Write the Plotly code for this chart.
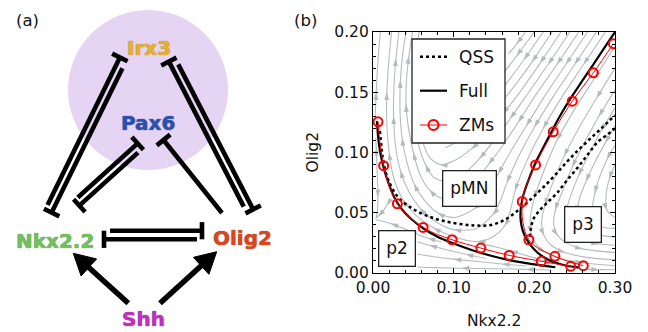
import math
import plotly.graph_objects as go

# ---------------- panel (b): phase plane, Olig2 against Nkx2.2 ----------------
x_tick_vals = [0.0, 0.1, 0.2, 0.3]
x_tick_text = ["0.00", "0.10", "0.20", "0.30"]
y_tick_vals = [0.0, 0.05, 0.1, 0.15, 0.2]
y_tick_text = ["0.00", "0.05", "0.10", "0.15", "0.20"]

# quasi-steady-state boundaries (dotted)
qss_upper_x = [0.0085, 0.0105, 0.0124, 0.0186, 0.031, 0.05, 0.075, 0.1, 0.125, 0.145,
               0.163, 0.178, 0.1946, 0.2125, 0.2277, 0.236, 0.25, 0.267, 0.283, 0.3]
qss_upper_y = [0.118, 0.105, 0.094, 0.078, 0.063, 0.053, 0.0455, 0.0415, 0.0395, 0.0397,
               0.044, 0.051, 0.0606, 0.072, 0.0827, 0.089, 0.099, 0.11, 0.12, 0.131]
qss_lower_x = [0.1946, 0.1958, 0.199, 0.207, 0.217, 0.2277, 0.24, 0.2545, 0.267, 0.279, 0.29, 0.3]
qss_lower_y = [0.030, 0.037, 0.045, 0.0523, 0.059, 0.0661, 0.0765, 0.0882, 0.099, 0.109, 0.1145, 0.12]

# full-model boundaries (solid)
full_left_x = [0.005, 0.0065, 0.009, 0.013, 0.019, 0.027, 0.035, 0.047, 0.0635, 0.08,
               0.1, 0.125, 0.1475, 0.175, 0.2, 0.226]
full_left_y = [0.126, 0.112, 0.1, 0.088, 0.075, 0.062, 0.0535, 0.045, 0.0365, 0.03,
               0.0245, 0.0185, 0.0141, 0.0098, 0.0072, 0.0048]
full_right_x = [0.3, 0.287, 0.273, 0.26, 0.247, 0.235, 0.2234, 0.2125, 0.2015, 0.193, 0.1865,
                0.1835, 0.1828, 0.1845, 0.188, 0.1935, 0.2, 0.207, 0.2175, 0.2276, 0.24, 0.255]
full_right_y = [0.2, 0.187, 0.173, 0.16, 0.147, 0.134, 0.12, 0.106, 0.0915, 0.0775, 0.065,
                0.055, 0.046, 0.038, 0.031, 0.0248, 0.0195, 0.0152, 0.011, 0.0083, 0.006, 0.0045]

# zero-mode boundaries (red, open circles)
zms_left_x = [0.0062, 0.0132, 0.0302, 0.0621, 0.0981, 0.1337, 0.1688, 0.2086, 0.245]
zms_left_y = [0.1255, 0.0891, 0.0574, 0.0378, 0.0276, 0.0207, 0.0146, 0.0097, 0.0055]
zms_right_x = [0.298, 0.2731, 0.247, 0.2234, 0.2015, 0.185, 0.1932, 0.2255, 0.2607]
zms_right_y = [0.1903, 0.1661, 0.1426, 0.1172, 0.0897, 0.0593, 0.0276, 0.0138, 0.0061]

# background flow lines, each listed in the direction of the flow
flow_lines = [
    ([0.0025, 0.004, 0.006, 0.009], [0.127, 0.15, 0.175, 0.2]),
    ([0.288, 0.261, 0.235, 0.211, 0.19, 0.176, 0.17, 0.163, 0.15, 0.13, 0.1, 0.075, 0.053, 0.037,
      0.026, 0.02, 0.017, 0.0172, 0.0195, 0.023],
     [0.2, 0.173, 0.147, 0.12, 0.092, 0.068, 0.051, 0.039, 0.0305, 0.026, 0.03, 0.0375, 0.048, 0.061,
      0.078, 0.1, 0.125, 0.15, 0.175, 0.2]),
    ([0.277, 0.25, 0.224, 0.2, 0.18, 0.166, 0.158, 0.148, 0.128, 0.1, 0.077, 0.058, 0.044, 0.034,
      0.028, 0.0255, 0.026, 0.0285, 0.032],
     [0.2, 0.173, 0.147, 0.121, 0.096, 0.075, 0.06, 0.048, 0.037, 0.036, 0.043, 0.054, 0.068, 0.085,
      0.105, 0.13, 0.155, 0.178, 0.2]),
    ([0.266, 0.239, 0.213, 0.19, 0.17, 0.155, 0.143, 0.125, 0.1, 0.08, 0.064, 0.051, 0.042, 0.036,
      0.0335, 0.034, 0.0365, 0.041],
     [0.2, 0.173, 0.147, 0.122, 0.1, 0.082, 0.067, 0.053, 0.046, 0.05, 0.06, 0.074, 0.092, 0.112,
      0.135, 0.16, 0.18, 0.2]),
    ([0.255, 0.228, 0.202, 0.18, 0.16, 0.143, 0.125, 0.105, 0.085, 0.07, 0.058, 0.05, 0.044, 0.041,
      0.0415, 0.0445, 0.049],
     [0.2, 0.173, 0.148, 0.125, 0.105, 0.09, 0.075, 0.063, 0.062, 0.069, 0.082, 0.1, 0.12, 0.14,
      0.16, 0.18, 0.2]),
    ([0.244, 0.217, 0.192, 0.17, 0.15, 0.132, 0.112, 0.092, 0.076, 0.065, 0.057, 0.052, 0.05, 0.052, 0.057],
     [0.2, 0.173, 0.149, 0.128, 0.11, 0.095, 0.082, 0.076, 0.079, 0.09, 0.105, 0.125, 0.15, 0.175, 0.2]),
    ([0.233, 0.207, 0.183, 0.161, 0.141, 0.122, 0.1, 0.083, 0.07, 0.062],
     [0.2, 0.174, 0.151, 0.132, 0.116, 0.103, 0.093, 0.09, 0.096, 0.108]),
    ([0.222, 0.197, 0.174, 0.152, 0.132, 0.11, 0.09], [0.2, 0.175, 0.154, 0.136, 0.122, 0.111, 0.104]),
    ([0.211, 0.187, 0.166, 0.148], [0.2, 0.177, 0.158, 0.143]),
    ([0.2, 0.178, 0.162], [0.2, 0.18, 0.166]),
    ([0.189, 0.178, 0.168], [0.2, 0.19, 0.182]),
    ([0.3, 0.275, 0.25, 0.228, 0.212, 0.2, 0.195, 0.196, 0.202, 0.214, 0.232, 0.26, 0.3],
     [0.188, 0.162, 0.136, 0.11, 0.085, 0.062, 0.045, 0.033, 0.024, 0.017, 0.012, 0.0085, 0.006]),
    ([0.3, 0.277, 0.255, 0.237, 0.223, 0.213, 0.209, 0.212, 0.221, 0.238, 0.265, 0.3],
     [0.17, 0.145, 0.12, 0.097, 0.075, 0.056, 0.042, 0.031, 0.023, 0.017, 0.013, 0.011]),
    ([0.3, 0.28, 0.262, 0.247, 0.235, 0.226, 0.224, 0.229, 0.24, 0.26, 0.3],
     [0.152, 0.13, 0.108, 0.088, 0.068, 0.052, 0.04, 0.031, 0.025, 0.02, 0.017]),
    ([0.3, 0.283, 0.268, 0.255, 0.245, 0.239, 0.239, 0.245, 0.258, 0.28, 0.3],
     [0.137, 0.118, 0.099, 0.081, 0.064, 0.05, 0.04, 0.032, 0.027, 0.024, 0.023]),
    ([0.3, 0.288, 0.275, 0.264, 0.256, 0.253, 0.256, 0.266, 0.283, 0.3],
     [0.122, 0.108, 0.092, 0.076, 0.062, 0.05, 0.04, 0.034, 0.031, 0.03]),
    ([0.3, 0.29, 0.281, 0.275, 0.272, 0.275, 0.285, 0.3], [0.106, 0.094, 0.08, 0.066, 0.053, 0.043, 0.038, 0.037]),
    ([0.3, 0.293, 0.289, 0.29, 0.3], [0.09, 0.078, 0.065, 0.052, 0.046]),
    ([0.262, 0.28, 0.3], [0.003, 0.0028, 0.0027]),
    ([0.22, 0.19, 0.15, 0.11, 0.075, 0.055], [0.0025, 0.003, 0.0035, 0.004, 0.0045, 0.005]),
    ([0.19, 0.16, 0.13, 0.1, 0.075, 0.055], [0.0058, 0.0075, 0.0095, 0.0115, 0.0135, 0.0155]),
    ([0.14, 0.115, 0.09, 0.07, 0.055], [0.012, 0.0155, 0.0195, 0.023, 0.026]),
    ([0.085, 0.068, 0.055, 0.045, 0.034, 0.022, 0.012, 0.004],
     [0.0255, 0.029, 0.032, 0.035, 0.038, 0.041, 0.043, 0.044]),
    ([0.0035, 0.0045, 0.0055, 0.006, 0.0055, 0.004], [0.112, 0.095, 0.078, 0.063, 0.052, 0.046]),
    ([0.022, 0.017, 0.011, 0.006, 0.003], [0.061, 0.056, 0.05, 0.047, 0.045]),
    ([0.225, 0.21, 0.19, 0.17, 0.15, 0.13], [0.0075, 0.0105, 0.0145, 0.0185, 0.022, 0.025]),
]

region_names = ["pMN", "p2", "p3"]
region_x = [0.1199, 0.030, 0.2607]
region_y = [0.0705, 0.0207, 0.0405]

legend_names = ["QSS", "Full", "ZMs"]

# ---------------- panel (a): regulatory network ----------------
node_names = ["Irx3", "Pax6", "Nkx2.2", "Olig2", "Shh"]
node_colors = ["#e8b12c", "#2b50b4", "#72c15c", "#e0441c", "#c42fc2"]
node_shadow = ["#8a6510", "#15286a", "#2f6a25", "#7a1c08", "#6a1068"]
edges = [  # (source, target, kind)
    ("Nkx2.2", "Irx3", "repress"), ("Irx3", "Nkx2.2", "repress"),
    ("Olig2", "Irx3", "repress"), ("Irx3", "Olig2", "repress"),
    ("Nkx2.2", "Pax6", "repress"), ("Pax6", "Nkx2.2", "repress"),
    ("Olig2", "Pax6", "repress"),
    ("Nkx2.2", "Olig2", "repress"), ("Olig2", "Nkx2.2", "repress"),
    ("Shh", "Nkx2.2", "activate"), ("Shh", "Olig2", "activate"),
]

# ---------------- drawing ----------------
W, H = 648, 332
PX_L, PX_R, PX_T, PX_B = 373, 615, 32, 273          # phase-plane box in pixels
SX = (PX_R - PX_L) / 0.3
SY = (PX_B - PX_T) / 0.2
FONT = "DejaVu Sans"
GRAY = "#b4bbbf"

fig = go.Figure()

for xs, ys in flow_lines:
    fig.add_trace(go.Scatter(x=xs, y=ys, mode="lines", hoverinfo="skip",
                             line=dict(color=GRAY, width=1.1, shape="spline", smoothing=0.8)))

# arrowheads on the flow lines, pointing along the flow
arr_x, arr_y, arr_a = [], [], []
for xs, ys in flow_lines:
    for i in range(1, len(xs) - 1, 2):
        dx = (xs[i + 1] - xs[i - 1]) * SX
        dy = (ys[i + 1] - ys[i - 1]) * SY
        arr_x.append(xs[i])
        arr_y.append(ys[i])
        arr_a.append(math.degrees(math.atan2(dx, dy)))
fig.add_trace(go.Scatter(x=arr_x, y=arr_y, mode="markers", hoverinfo="skip",
                         marker=dict(symbol="arrow", size=8, angle=arr_a, color=GRAY,
                                     line=dict(width=0))))

for xs, ys in [(qss_upper_x, qss_upper_y), (qss_lower_x, qss_lower_y)]:
    fig.add_trace(go.Scatter(x=xs, y=ys, mode="lines", hoverinfo="skip",
                             line=dict(color="black", width=2.5, dash="dot", shape="spline")))
for xs, ys in [(full_left_x, full_left_y), (full_right_x, full_right_y)]:
    fig.add_trace(go.Scatter(x=xs, y=ys, mode="lines", hoverinfo="skip",
                             line=dict(color="black", width=2.2, shape="spline")))
for xs, ys in [(zms_left_x, zms_left_y), (zms_right_x, zms_right_y)]:
    fig.add_trace(go.Scatter(x=xs, y=ys, mode="lines+markers", hoverinfo="skip",
                             line=dict(color="red", width=1, shape="spline"),
                             marker=dict(symbol="circle-open", size=9, color="red",
                                         line=dict(width=2, color="red"))))

axis_common = dict(showgrid=False, zeroline=False, showline=True, linecolor="black",
                   linewidth=1.2, mirror="allticks", ticks="inside", ticklen=5,
                   tickwidth=1, tickcolor="black", automargin=False,
                   tickfont=dict(family=FONT, size=15.5, color="#111"))
fig.update_layout(
    width=W, height=H, margin=dict(l=0, r=0, t=0, b=0, pad=0, autoexpand=False),
    paper_bgcolor="white", plot_bgcolor="rgba(0,0,0,0)", showlegend=False,
    font=dict(family=FONT),
    xaxis=dict(domain=[PX_L / W, PX_R / W], range=[0, 0.3], tickvals=x_tick_vals,
               ticktext=x_tick_text, anchor="y",
               minor=dict(dtick=0.02, tick0=0, ticks="inside", ticklen=2.5,
                          tickcolor="black", tickwidth=0.8, showgrid=False),
               **axis_common),
    yaxis=dict(domain=[1 - PX_B / H, 1 - PX_T / H], range=[0, 0.2], tickvals=y_tick_vals,
               ticktext=y_tick_text, anchor="x",
               minor=dict(dtick=0.01, tick0=0, ticks="inside", ticklen=2.5,
                          tickcolor="black", tickwidth=0.8, showgrid=False),
               **axis_common),
    # pixel-space overlay used for the network diagram and the legend
    xaxis2=dict(domain=[0, 1], range=[0, W], visible=False, anchor="y2", fixedrange=True,
                automargin=False),
    yaxis2=dict(domain=[0, 1], range=[H, 0], visible=False, anchor="x2", fixedrange=True,
                automargin=False),
)

shapes = []
annotations = []

def px_text(x, y, text, size, color="#111", **kw):
    d = dict(x=x, y=y, xref="x2", yref="y2", text=text, showarrow=False,
             font=dict(family=FONT, size=size, color=color))
    d.update(kw)
    annotations.append(d)

# axis titles and panel tags
px_text((PX_L + PX_R) / 2, 321, "Nkx2.2", 15.5)
px_text(312, (PX_T + PX_B) / 2, "Olig2", 15.5, textangle=-90)
px_text(27, 20, "(a)", 16.5)
px_text(305, 20, "(b)", 16.5)

# region labels in framed boxes
for name, rx, ry in zip(region_names, region_x, region_y):
    annotations.append(dict(x=rx, y=ry, xref="x", yref="y", text=name, showarrow=False,
                            font=dict(family=FONT, size=17, color="#111"),
                            bgcolor="white", bordercolor="#222", borderwidth=1.3, borderpad=7))

# legend frame, samples and labels
LG_X0, LG_X1, LG_Y0, LG_Y1 = 412, 505, 39, 143
row_y = [56.7, 90.7, 125.0]
shapes.append(dict(type="rect", xref="x2", yref="y2", x0=LG_X0, x1=LG_X1, y0=LG_Y0, y1=LG_Y1,
                   fillcolor="white", line=dict(color="#222", width=1.3), layer="above"))
sample_styles = [dict(color="black", width=2.5, dash="dot"),
                 dict(color="black", width=2.2),
                 dict(color="red", width=1)]
for name, ry, st in zip(legend_names, row_y, sample_styles):
    shapes.append(dict(type="line", xref="x2", yref="y2", x0=420, x1=447, y0=ry, y1=ry,
                       line=st, layer="above"))
    px_text(457, ry, name, 17, xanchor="left")
shapes.append(dict(type="circle", xref="x2", yref="y2", x0=428.5, x1=438.5,
                   y0=row_y[2] - 5, y1=row_y[2] + 5, line=dict(color="red", width=2),
                   layer="above"))

# ---- network diagram (pixel coordinates) ----
shapes.append(dict(type="circle", xref="x2", yref="y2", x0=68, x1=228, y0=10, y1=170,
                   fillcolor="#e5d4f3", line=dict(width=0), layer="below"))

label_pos = {"Irx3": (148.5, 47.5), "Pax6": (148, 123), "Nkx2.2": (55, 240.5),
             "Olig2": (242.5, 237.5), "Shh": (143.5, 319)}

def along(p0, p1, t, off):
    dx, dy = p1[0] - p0[0], p1[1] - p0[1]
    L = math.hypot(dx, dy)
    nx, ny = -dy / L, dx / L
    return (p0[0] + t * dx + off * nx, p0[1] + t * dy + off * ny)

# paired edges share an axis; each member is shifted sideways and trimmed
pair_axis = {
    frozenset(("Nkx2.2", "Irx3")): ((48.5, 211), (123, 59)),
    frozenset(("Olig2", "Irx3")): ((250, 211), (172, 60)),
    frozenset(("Nkx2.2", "Pax6")): ((77, 203), (140, 146)),
}
SEP = 3.5
edge_geom = {
    ("Nkx2.2", "Irx3"): ("axis", -SEP, 0.03, 1.0),
    ("Irx3", "Nkx2.2"): ("axis", SEP, 0.95, 0.0),
    ("Olig2", "Irx3"): ("axis", -SEP, 0.04, 1.0),
    ("Irx3", "Olig2"): ("axis", SEP, 0.96, 0.0),
    ("Nkx2.2", "Pax6"): ("axis", -SEP, 0.05, 1.0),
    ("Pax6", "Nkx2.2"): ("axis", SEP, 0.93, 0.0),
    ("Olig2", "Pax6"): ("free", (222, 213), (163.5, 140)),
    ("Nkx2.2", "Olig2"): ("free", (110, 230.7), (202, 230.7)),
    ("Olig2", "Nkx2.2"): ("free", (197, 239.3), (104, 239.3)),
    ("Shh", "Nkx2.2"): ("free", (128.3, 303.3), (73.3, 253.3)),
    ("Shh", "Olig2"): ("free", (160, 303.3), (216.7, 251.7)),
}

def seg_trace(pts, width):
    return go.Scatter(x=[p[0] for p in pts], y=[p[1] for p in pts], xaxis="x2", yaxis="y2",
                      mode="lines", hoverinfo="skip", line=dict(color="black", width=width))

for src, dst, kind in edges:
    g = edge_geom[(src, dst)]
    if g[0] == "axis":
        a0, a1 = pair_axis[frozenset((src, dst))]
        _, off, t0, t1 = g
        s = along(a0, a1, t0, off)
        e = along(a0, a1, t1, off)
    else:
        _, s, e = g
    dx, dy = e[0] - s[0], e[1] - s[1]
    L = math.hypot(dx, dy)
    ux, uy = dx / L, dy / L
    px_, py_ = -uy, ux
    if kind == "repress":
        fig.add_trace(seg_trace([s, e], 4.6))
        bar = 8.6
        fig.add_trace(seg_trace([(e[0] - bar * px_, e[1] - bar * py_),
                                 (e[0] + bar * px_, e[1] + bar * py_)], 4.6))
    else:
        head_len, head_half = 21, 11.5
        base = (e[0] - head_len * ux, e[1] - head_len * uy)
        fig.add_trace(seg_trace([s, (e[0] - (head_len - 3) * ux, e[1] - (head_len - 3) * uy)], 5.5))
        c1 = (base[0] + head_half * px_, base[1] + head_half * py_)
        c2 = (base[0] - head_half * px_, base[1] - head_half * py_)
        fig.add_trace(go.Scatter(x=[e[0], c1[0], c2[0], e[0]], y=[e[1], c1[1], c2[1], e[1]],
                                 xaxis="x2", yaxis="y2", mode="lines", fill="toself",
                                 fillcolor="black", line=dict(color="black", width=1),
                                 hoverinfo="skip"))

for name, col, sh in zip(node_names, node_colors, node_shadow):
    x, y = label_pos[name]
    annotations.append(dict(x=x, y=y, xref="x2", yref="y2", text=name, showarrow=False,
                            font=dict(family=FONT, size=20, color=col, weight="bold",
                                      shadow=f"0px 0px 1px {sh}")))

fig.update_layout(shapes=shapes, annotations=annotations)
fig.write_html("out.html")
